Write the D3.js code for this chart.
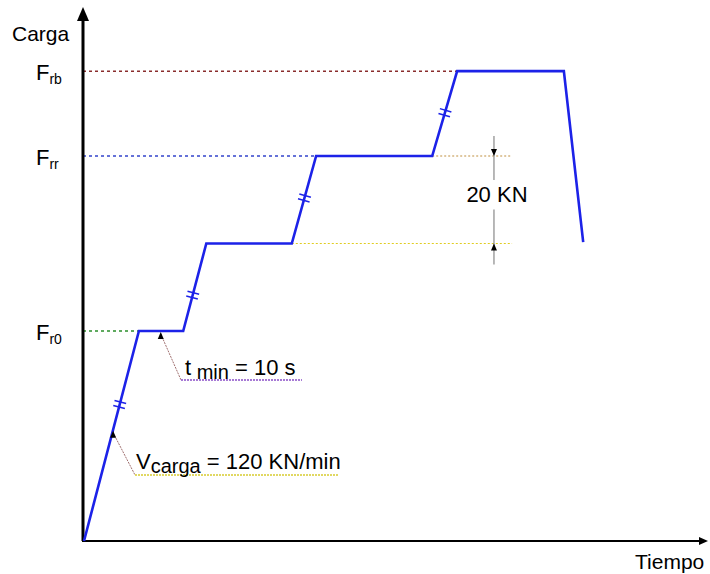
<!DOCTYPE html>
<html lang="es">
  <head>
    <meta charset="UTF-8" />
    <title>Carga - Tiempo</title>
    <style>
      body { margin: 0; background: #fff; }
      svg text { font-family: "Liberation Sans", Arial, sans-serif; fill: #000; }
    </style>
  </head>
  <body>
    <svg width="710" height="574"></svg>
    <script src="https://d3js.org/d3.v7.min.js"></script>
    <script>
      // load path (time in arbitrary units, load in kN)
      const loadTime = [0, 8.8, 15.9, 19.6, 33.3, 37.2, 55.8, 59.8, 76.9, 80.0];
      const loadValue = [0, 48, 48, 68, 68, 88, 88, 107.4, 107.4, 68.3];

      // reference levels
      const refNames = ["r0", "rr", "rb"];
      const refValues = [48, 88, 107.4];
      const refColors = ["#2b8f2b", "#3344cc", "#8a2d2d"];

      // "//" marks on the ramps: ramp start index and fraction along it
      const hashRamp = [0, 2, 4, 6];
      const hashFrac = [0.65, 0.41, 0.52, 0.51];

      const stepSize = 20; // KN between holds
      const dimTime = 65.7;

      const svg = d3.select("svg");
      const x = d3.scaleLinear().domain([0, 100]).range([84, 708]);
      const y = d3.scaleLinear().domain([0, 120]).range([541, 16]);

      const pts = loadTime.map((t, i) => [x(t), y(loadValue[i])]);

      // reference dotted lines
      refValues.forEach((v, i) => {
        const endIdx = loadValue.findIndex((d) => d === v);
        svg.append("line")
          .attr("x1", 83).attr("x2", pts[endIdx][0])
          .attr("y1", y(v)).attr("y2", y(v))
          .attr("stroke", refColors[i])
          .attr("stroke-width", 1.5)
          .attr("stroke-dasharray", "3,3");
        const g = svg.append("text").attr("x", 36).attr("y", y(v) + 9).style("font-size", "22px");
        g.append("tspan").text("F");
        g.append("tspan").attr("dy", 4).style("font-size", "14px").text(refNames[i]);
      });

      // dimension lines for 20 KN step
      const dimTop = y(88), dimBot = y(68);
      svg.append("line").attr("x1", pts[6][0]).attr("x2", x(68.6))
        .attr("y1", dimTop).attr("y2", dimTop)
        .attr("stroke", "#c09040").attr("stroke-width", 1.2).attr("stroke-dasharray", "2,2");
      svg.append("line").attr("x1", pts[4][0]).attr("x2", x(68.6))
        .attr("y1", dimBot).attr("y2", dimBot)
        .attr("stroke", "#e0cc20").attr("stroke-width", 1.2).attr("stroke-dasharray", "2,2");
      const dx = x(dimTime);
      svg.append("line").attr("x1", dx).attr("x2", dx)
        .attr("y1", dimTop - 20).attr("y2", dimTop + 24)
        .attr("stroke", "#888").attr("stroke-width", 1.2);
      svg.append("line").attr("x1", dx).attr("x2", dx)
        .attr("y1", dimBot - 34).attr("y2", dimBot + 21)
        .attr("stroke", "#888").attr("stroke-width", 1.2);
      svg.append("path")
        .attr("d", `M${dx},${dimTop} l-3,-7 l6,0 Z M${dx},${dimBot} l-3,7 l6,0 Z`)
        .attr("fill", "#000");
      svg.append("text").attr("x", dx + 3).attr("y", dimTop + 46)
        .attr("text-anchor", "middle").style("font-size", "22px")
        .text(stepSize + " KN");

      // axes
      svg.append("line").attr("x1", 83).attr("x2", 83).attr("y1", 541).attr("y2", 14)
        .attr("stroke", "#000").attr("stroke-width", 3);
      svg.append("path").attr("d", "M83,7 L77,21 L89,21 Z").attr("fill", "#000");
      svg.append("line").attr("x1", 82).attr("x2", 702).attr("y1", 541).attr("y2", 541)
        .attr("stroke", "#000").attr("stroke-width", 2);
      svg.append("path").attr("d", "M708,541 L699,537 L699,545 Z").attr("fill", "#000");
      svg.append("text").attr("x", 12).attr("y", 41).style("font-size", "21px").text("Carga");
      svg.append("text").attr("x", 635).attr("y", 569).style("font-size", "21px").text("Tiempo");

      // load curve
      svg.append("path")
        .datum(pts)
        .attr("d", d3.line())
        .attr("fill", "none")
        .attr("stroke", "#1c22e8")
        .attr("stroke-width", 2.6)
        .attr("stroke-linejoin", "miter");

      // "//" marks
      hashRamp.forEach((r, i) => {
        const [x0, y0] = pts[r], [x1, y1] = pts[r + 1];
        const f = hashFrac[i];
        const cx = x0 + (x1 - x0) * f, cy = y0 + (y1 - y0) * f;
        const len = Math.hypot(x1 - x0, y1 - y0);
        const ux = (x1 - x0) / len, uy = (y1 - y0) / len;
        const nx = -uy, ny = ux;
        [-2.5, 2.5].forEach((o) => {
          const mx = cx + ux * o, my = cy + uy * o;
          svg.append("line")
            .attr("x1", mx - nx * 6).attr("y1", my - ny * 6)
            .attr("x2", mx + nx * 6).attr("y2", my + ny * 6)
            .attr("stroke", "#1c22e8").attr("stroke-width", 1.5);
        });
      });

      // annotations
      const tminPt = [x(12.3), y(48)];
      const vPt = [pts[0][0] + (pts[1][0] - pts[0][0]) * 0.53, pts[0][1] + (pts[1][1] - pts[0][1]) * 0.53];
      const leaders = [
        { p: tminPt, knee: [181, 380], end: 302, color: "#8a4fc8" },
        { p: vPt, knee: [135, 475], end: 338, color: "#d8cc30" },
      ];
      leaders.forEach((l) => {
        svg.append("path")
          .attr("d", `M${l.p[0]},${l.p[1] + 3} L${l.knee[0]},${l.knee[1]}`)
          .attr("stroke", "#a07070").attr("stroke-width", 1).attr("fill", "none")
          .attr("stroke-dasharray", "2,1");
        svg.append("line").attr("x1", l.knee[0]).attr("x2", l.end)
          .attr("y1", l.knee[1]).attr("y2", l.knee[1])
          .attr("stroke", l.color).attr("stroke-width", 1.3).attr("stroke-dasharray", "2,1");
        svg.append("path")
          .attr("d", `M${l.p[0]},${l.p[1] + 1} l-3,7 l6,0 Z`)
          .attr("fill", "#000");
      });

      const t1 = svg.append("text").attr("x", 185).attr("y", 375).style("font-size", "22px");
      t1.append("tspan").text("t");
      t1.append("tspan").attr("dy", 4).style("font-size", "20px").text(" min");
      t1.append("tspan").attr("dy", -4).text(" = 10 s");

      const t2 = svg.append("text").attr("x", 136).attr("y", 469).style("font-size", "22px");
      t2.append("tspan").text("V");
      t2.append("tspan").attr("dy", 4).style("font-size", "20px").text("carga");
      t2.append("tspan").attr("dy", -4).text(" = 120 KN/min");
    </script>
  </body>
</html>
